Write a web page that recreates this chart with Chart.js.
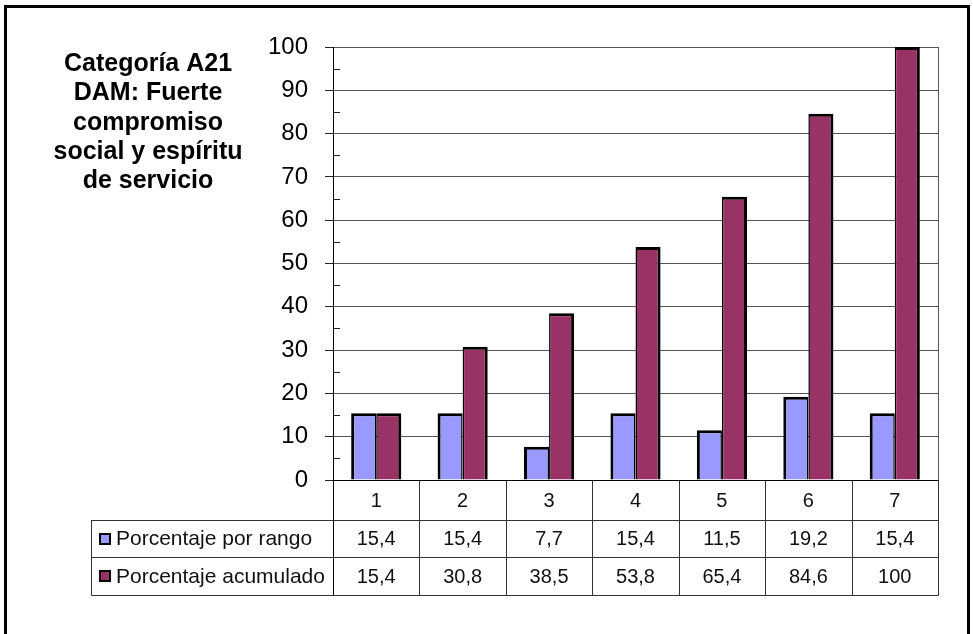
<!DOCTYPE html>
<html lang="es">
<head>
<meta charset="utf-8">
<title>Categoría A21 DAM</title>
<script src="https://cdn.jsdelivr.net/npm/chart.js@4.4.1/dist/chart.umd.min.js"></script>
<style>
  html, body { margin: 0; padding: 0; background: #ffffff; }
  #wrap { width: 973px; height: 634px; position: relative; }
  canvas { display: block; }
</style>
</head>
<body>
<div id="wrap"><canvas id="chart" width="973" height="634"></canvas></div>
<script>
// Rangos 1..7
const categories = ['1', '2', '3', '4', '5', '6', '7'];
// Porcentaje de respuestas en cada rango
const porcentajeRango = [15.4, 15.4, 7.7, 15.4, 11.5, 19.2, 15.4];
// Porcentaje acumulado
const porcentajeAcumulado = [15.4, 30.8, 38.5, 53.8, 65.4, 84.6, 100];
// Nombres de las series
const seriesNames = ['Porcentaje por rango', 'Porcentaje acumulado'];
// Título del gráfico, línea a línea
const titleLines = ['Categoría A21', 'DAM: Fuerte', 'compromiso', 'social y espíritu', 'de servicio'];
// Eje vertical
const yMin = 0, yMax = 100, yStep = 10;

const colors = ['#9999FF', '#993366'];
const FONT = '"Liberation Sans", Arial, sans-serif';

const fmt = v => String(v).replace('.', ',');

// Marco exterior, título, marcas menores, borde derecho y tabla de datos
const decorPlugin = {
  id: 'decor',
  beforeDraw(chart) {
    const ctx = chart.ctx;
    ctx.save();
    ctx.fillStyle = '#ffffff';
    ctx.fillRect(0, 0, chart.width, chart.height);
    ctx.strokeStyle = '#000000';
    ctx.lineWidth = 3;
    ctx.strokeRect(5.5, 6.5, 963, 700);

    ctx.fillStyle = '#000000';
    ctx.font = 'bold 25px ' + FONT;
    ctx.textAlign = 'center';
    ctx.textBaseline = 'alphabetic';
    titleLines.forEach((t, i) => ctx.fillText(t, 148, 71 + i * 29.3));
    ctx.restore();
  },
  afterDraw(chart) {
    const ctx = chart.ctx;
    const ca = chart.chartArea;
    const y = chart.scales.y;
    ctx.save();

    // borde derecho del área de trazado
    ctx.strokeStyle = '#555555';
    ctx.lineWidth = 1;
    ctx.beginPath();
    ctx.moveTo(Math.round(ca.right) + 0.5, ca.top);
    ctx.lineTo(Math.round(ca.right) + 0.5, ca.bottom);
    ctx.stroke();

    // marcas menores hacia dentro
    ctx.strokeStyle = '#222222';
    ctx.beginPath();
    for (let v = yMin + yStep / 2; v < yMax; v += yStep) {
      const py = Math.round(y.getPixelForValue(v)) + 0.5;
      ctx.moveTo(ca.left, py);
      ctx.lineTo(ca.left + 7, py);
    }
    ctx.stroke();

    // tabla de datos
    const n = categories.length;
    const colW = (ca.right - ca.left) / n;
    const top = Math.round(ca.bottom);
    const rows = [top, top + 40, top + 77, top + 115];
    const legendLeft = 91.5;
    const L = Math.round(ca.left) + 0.5;
    const R = Math.round(ca.right) + 0.5;

    ctx.strokeStyle = '#333333';
    ctx.lineWidth = 1;
    ctx.beginPath();
    // horizontales
    ctx.moveTo(L, rows[0] + 0.5); ctx.lineTo(R, rows[0] + 0.5);
    for (let r = 1; r < rows.length; r++) {
      ctx.moveTo(legendLeft, rows[r] + 0.5);
      ctx.lineTo(R, rows[r] + 0.5);
    }
    // verticales
    for (let k = 1; k <= n; k++) {
      const px = Math.round(ca.left + k * colW) + 0.5;
      ctx.moveTo(px, rows[0]);
      ctx.lineTo(px, rows[3] + 0.5);
    }
    ctx.moveTo(legendLeft, rows[1]); ctx.lineTo(legendLeft, rows[3] + 0.5);
    ctx.stroke();

    ctx.strokeStyle = '#000000';
    ctx.beginPath();
    ctx.moveTo(L, rows[0]); ctx.lineTo(L, rows[3] + 0.5);
    ctx.moveTo(L, rows[0] + 0.5); ctx.lineTo(R, rows[0] + 0.5);
    ctx.stroke();

    // textos
    ctx.fillStyle = '#111111';
    ctx.textAlign = 'center';
    ctx.textBaseline = 'middle';
    ctx.font = '20px ' + FONT;
    const series = [porcentajeRango, porcentajeAcumulado];
    for (let i = 0; i < n; i++) {
      const cx = chart.scales.x.getPixelForValue(i);
      ctx.fillText(categories[i], cx, (rows[0] + rows[1]) / 2 + 1);
      series.forEach((s, j) => {
        ctx.fillText(fmt(s[i]), cx, (rows[j + 1] + rows[j + 2]) / 2 + 1);
      });
    }

    // leyenda de la tabla
    ctx.textAlign = 'left';
    ctx.font = '21px ' + FONT;
    seriesNames.forEach((name, j) => {
      const cy = (rows[j + 1] + rows[j + 2]) / 2;
      ctx.fillStyle = '#000000';
      ctx.fillRect(99, Math.round(cy) - 6, 12, 12);
      ctx.fillStyle = colors[j];
      ctx.fillRect(101, Math.round(cy) - 4, 8, 8);
      ctx.fillStyle = '#111111';
      ctx.fillText(name, 116, cy + 1);
    });
    ctx.restore();
  }
};

new Chart(document.getElementById('chart'), {
  type: 'bar',
  data: {
    labels: categories,
    datasets: [
      {
        label: seriesNames[0],
        data: porcentajeRango,
        backgroundColor: colors[0],
        borderColor: '#000000',
        borderWidth: { top: 3, left: 3, right: 1.5, bottom: 0 },
        borderSkipped: 'start'
      },
      {
        label: seriesNames[1],
        data: porcentajeAcumulado,
        backgroundColor: colors[1],
        borderColor: '#000000',
        borderWidth: { top: 3, left: 1.5, right: 3, bottom: 0 },
        borderSkipped: 'start'
      }
    ]
  },
  options: {
    responsive: false,
    devicePixelRatio: 1,
    animation: false,
    categoryPercentage: 0.58,
    barPercentage: 1,
    layout: { padding: { left: 0, top: 47, right: 35, bottom: 154 } },
    plugins: {
      legend: { display: false },
      title: { display: false },
      tooltip: { enabled: false }
    },
    scales: {
      x: {
        display: false,
        grid: { display: false }
      },
      y: {
        min: yMin,
        max: yMax,
        afterFit(scale) { scale.width = 333; },
        ticks: {
          stepSize: yStep,
          padding: 17,
          color: '#000000',
          font: { family: FONT, size: 24 }
        },
        grid: {
          color: '#555555',
          lineWidth: 1,
          tickLength: 8,
          tickColor: '#222222'
        },
        border: { display: true, color: '#000000', width: 1 }
      }
    }
  },
  plugins: [decorPlugin]
});
</script>
</body>
</html>
